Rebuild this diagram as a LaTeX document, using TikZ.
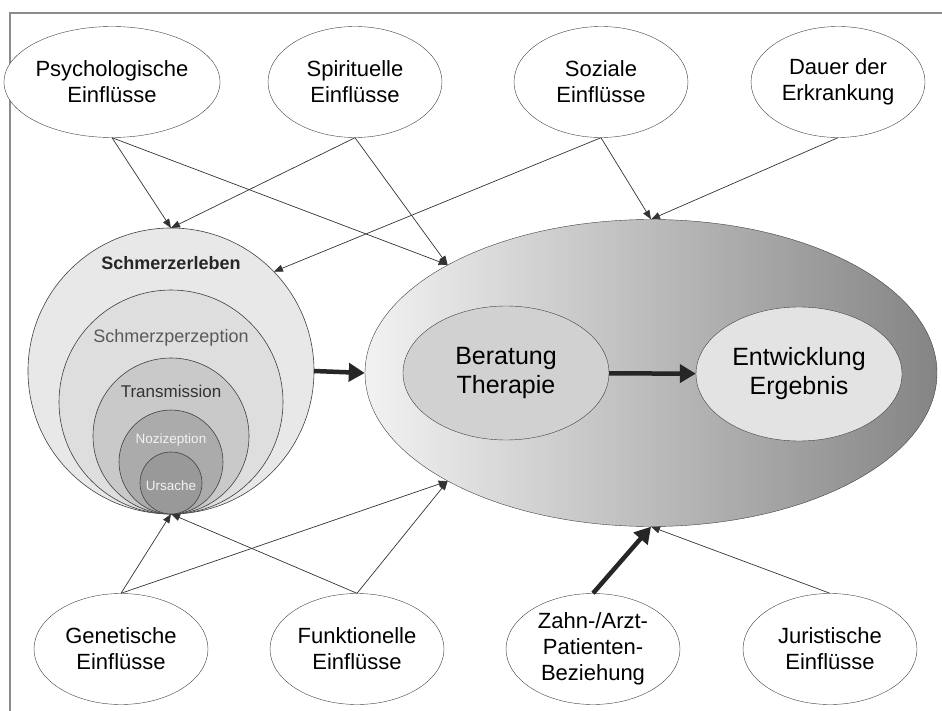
\documentclass[tikz,border=0pt]{standalone}
\usepackage{fontspec}
\setmainfont{Liberation Sans}
\usepackage{tikz}
\usetikzlibrary{arrows.meta, shapes.geometric, positioning}

\begin{document}
\begin{tikzpicture}[
    x=1pt, y=-1pt,
    influence/.style={ellipse, minimum width=174pt, minimum height=111pt, inner sep=0pt,
                      align=center, draw=black!75, fill=white, font=\fontsize{22}{26}\selectfont},
    layer/.style={circle, inner sep=0pt, outer sep=0pt, draw=black!75, line width=0.6pt},
    layertext/.style={anchor=base, inner sep=0pt},
    core/.style={ellipse, minimum width=206pt, minimum height=134pt, inner sep=0pt,
                 align=center, draw=black!75, font=\fontsize{25}{29}\selectfont},
    arrow/.style={draw=black!80, line width=0.7pt, -{Triangle[length=9pt,width=7pt]}},
    bigarrow/.style={draw=black!85, line width=4.5pt, -{Triangle[length=16pt,width=18pt]}}
]
\useasboundingbox (0,0) rectangle (942,711);
\draw [black!45, line width=1.2pt] (10,711) -- (10,13) -- (942,13);

% influences, top row
\node (psych) [influence] at (112,82) {Psychologische\\Einflüsse};
\node (spirit) [influence] at (355,82) {Spirituelle\\Einflüsse};
\node (sozial) [influence] at (601,82) {Soziale\\Einflüsse};
\node (dauer) [influence] at (838,82) {Dauer der\\Erkrankung};

% influences, bottom row
\node (genet) [influence] at (121,649) {Genetische\\Einflüsse};
\node (funkt) [influence] at (357,649) {Funktionelle\\Einflüsse};
\node (zahn) [influence] at (593,649) {Zahn-/Arzt-\\Patienten-\\Beziehung};
\node (jur) [influence] at (830,649) {Juristische\\Einflüsse};

% pain layers
\node (erleben) [layer, minimum size=286pt, fill=black!9] at (171,371) {};
\node (perzeption) [layer, minimum size=224pt, fill=black!13] at (171,402) {};
\node (transmission) [layer, minimum size=156pt, fill=black!21] at (171,436) {};
\node (nozizeption) [layer, minimum size=104pt, fill=black!33] at (171,462) {};
\node (ursache) [layer, minimum size=62pt, fill=black!40] at (171,483) {};

\node (erlebentext) [layertext, font=\bfseries\fontsize{18}{20}\selectfont, text=black!85] at (171,270) {Schmerzerleben};
\node (perzeptiontext) [layertext, font=\fontsize{18}{20}\selectfont, text=black!65] at (171,342) {Schmerzperzeption};
\node (transmissiontext) [layertext, font=\fontsize{17}{20}\selectfont, text=black!80] at (171,397) {Transmission};
\node (nozizeptiontext) [layertext, font=\fontsize{13.5}{15}\selectfont, text=black!5] at (171,443) {Nozizeption};
\node (ursachetext) [layertext, font=\fontsize{13.5}{15}\selectfont, text=black!5] at (171,490) {Ursache};

% treatment
\node (main) [ellipse, minimum width=572pt, minimum height=307pt, inner sep=0pt,
              draw=black!75, left color=black!5, right color=black!48] at (651,373) {};
\node (beratung) [core, fill=black!18] at (506,373) {Beratung\\Therapie};
\node (entwicklung) [core, fill=black!11] at (799,374) {Entwicklung\\Ergebnis};

\draw [arrow] (psych.south) -- (erleben.north);
\draw [arrow] (spirit.south) -- (erleben.north);
\draw [arrow] (psych.south) -- (main.152);
\draw [arrow] (spirit.south) -- (main.152);
\draw [arrow] (sozial.south) -- (erleben.44);
\draw [arrow] (sozial.south) -- (main.north);
\draw [arrow] (dauer.south) -- (main.north);

\draw [arrow] (genet.north) -- (erleben.south);
\draw [arrow] (funkt.north) -- (erleben.south);
\draw [arrow] (genet.north) -- (main.208);
\draw [arrow] (funkt.north) -- (main.208);
\draw [arrow] (jur.north) -- (main.south);

\draw [bigarrow] (erleben.east) -- (main.west);
\draw [bigarrow] (beratung) -- (entwicklung);
\draw [bigarrow] (zahn.north) -- (main.south);

\end{tikzpicture}
\end{document}
